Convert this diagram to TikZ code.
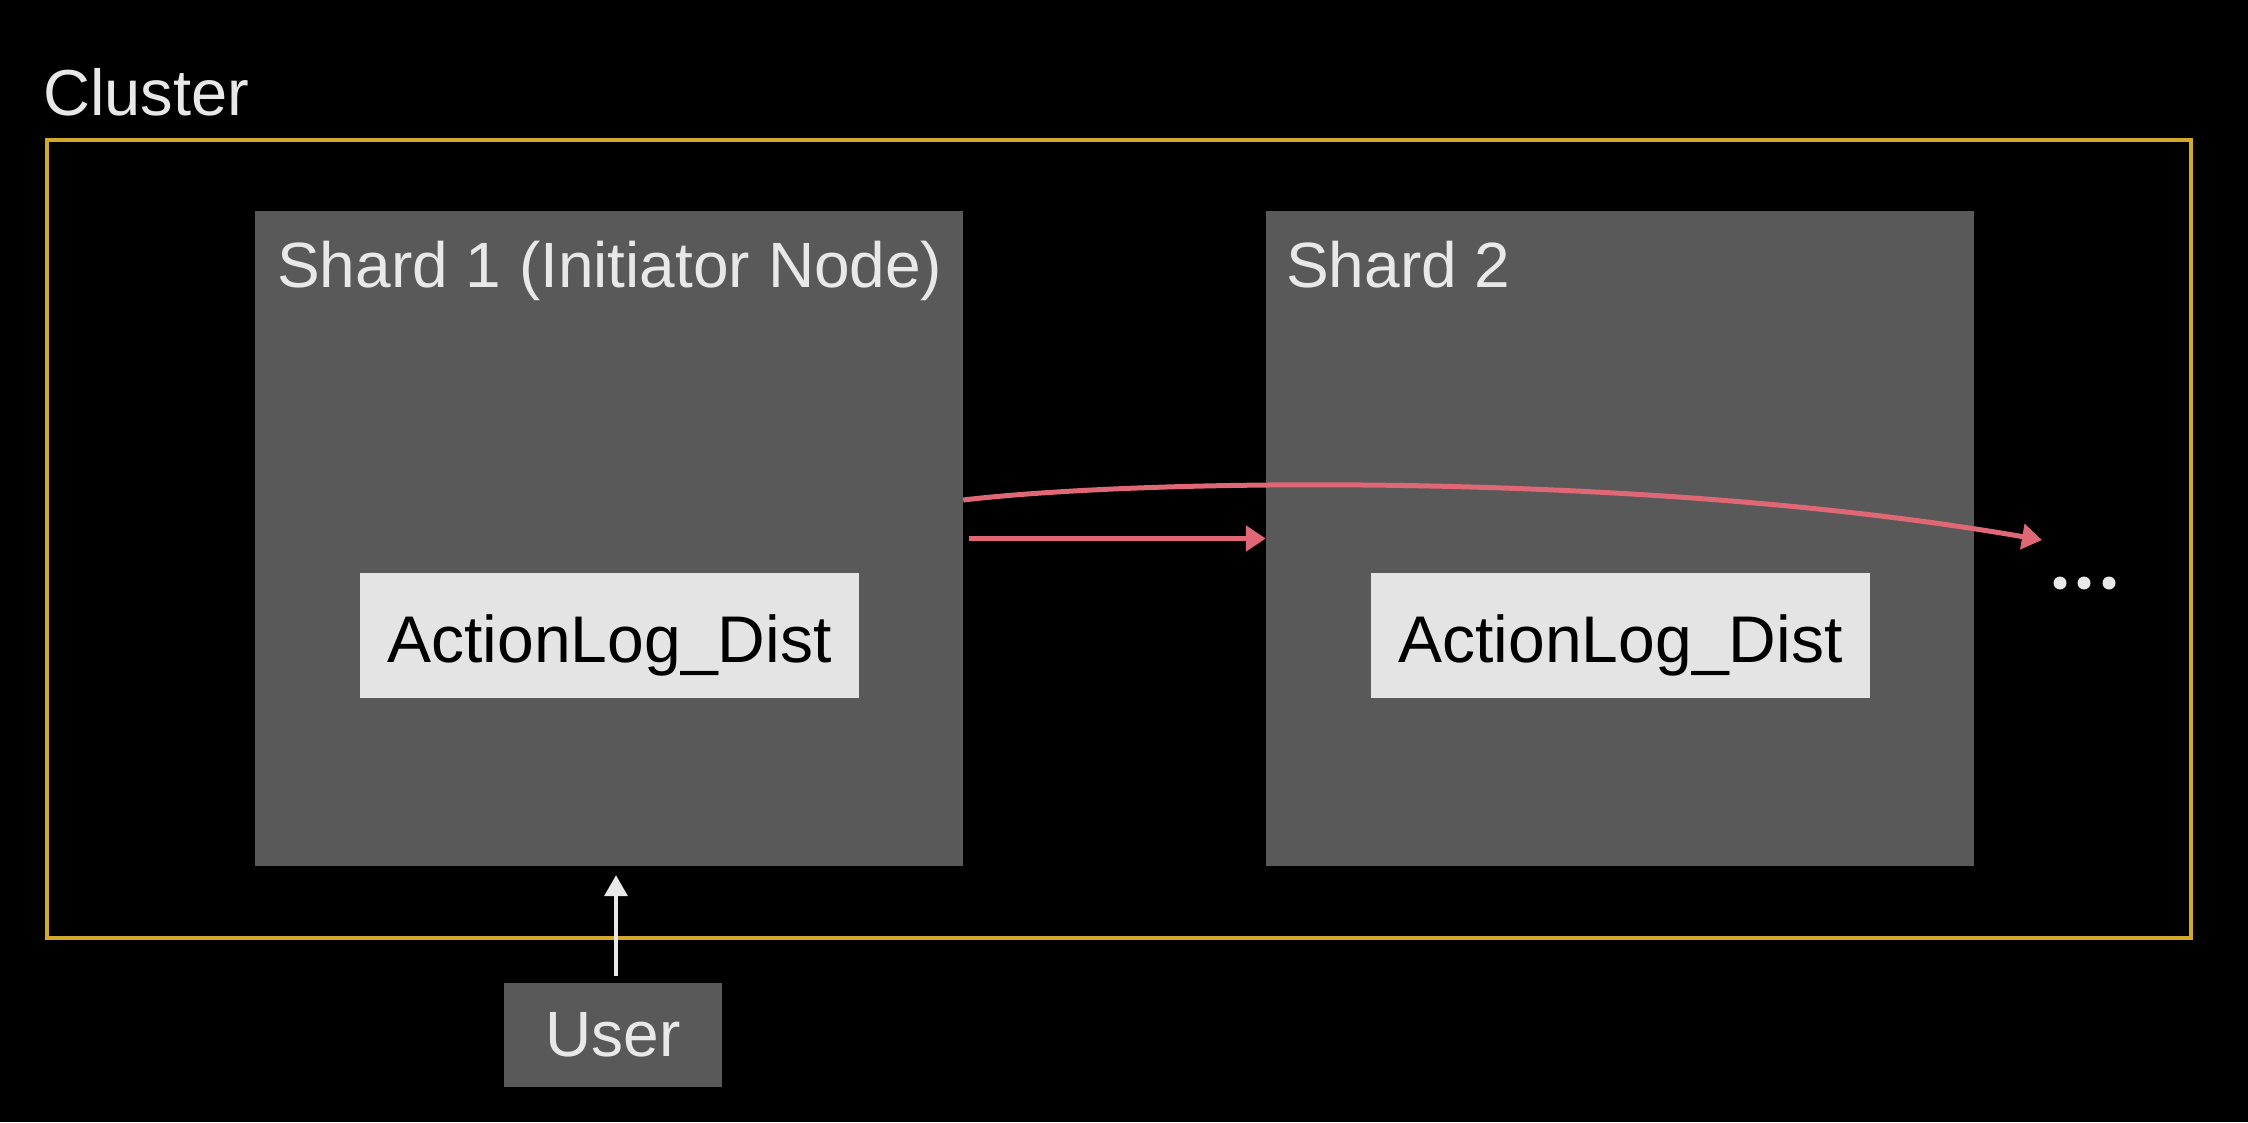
\documentclass[tikz,border=0pt]{standalone}
\usepackage{fontspec}
\setmainfont{Liberation Sans}
\usetikzlibrary{arrows.meta}
\definecolor{bgblack}{RGB}{0,0,0}
\definecolor{shardgray}{RGB}{89,89,89}
\definecolor{logfill}{RGB}{228,228,228}
\definecolor{lighttext}{RGB}{232,232,232}
\definecolor{gold}{RGB}{212,168,44}
\definecolor{redarrow}{RGB}{224,104,118}
\tikzset{
  clusterbox/.style={draw=gold, line width=4.5pt, minimum width=2144pt, minimum height=798pt, inner sep=0pt},
  shardbox/.style={fill=shardgray, minimum width=708pt, minimum height=655pt, inner sep=0pt},
  logbox/.style={fill=logfill, text=black, minimum width=499pt, minimum height=125pt, inner sep=0pt, font=\fontsize{66pt}{79pt}\selectfont},
  userbox/.style={fill=shardgray, text=lighttext, minimum width=218pt, minimum height=104pt, inner sep=0pt, font=\fontsize{64pt}{77pt}\selectfont},
  titletext/.style={text=lighttext, inner sep=0pt, anchor=base west, font=\fontsize{64pt}{77pt}\selectfont},
  redconn/.style={draw=redarrow, line width=5pt, -{Triangle[length=20pt,width=25pt]}},
  userconn/.style={draw=lighttext, line width=3.5pt, -{Triangle[length=21pt,width=23pt]}},
  dot/.style={circle, fill=lighttext, minimum size=13pt, inner sep=0pt}
}
\begin{document}
\begin{tikzpicture}[x=1pt,y=-1pt]
\fill[bgblack] (0,0) rectangle (2248,1122);
\useasboundingbox (0,0) rectangle (2248,1122);

\node[titletext, font=\fontsize{65pt}{78pt}\selectfont] (clustertitle) at (43,115) {Cluster};
\node[clusterbox] (cluster) at (1119,539) {};

\node[shardbox] (shard1) at (609,538.5) {};
\node[shardbox] (shard2) at (1620,538.5) {};
\node[titletext] (shard1title) at (277,287) {Shard 1 (Initiator Node)};
\node[titletext] (shard2title) at (1286,287) {Shard 2};

\node[logbox, text depth=0pt] (log1) at (609.5,635.5) {\raisebox{-6pt}{ActionLog\_Dist}};
\node[logbox, text depth=0pt] (log2) at (1620.5,635.5) {\raisebox{-6pt}{ActionLog\_Dist}};

\node[userbox] (user) at (613,1035) {User};

\node[dot] (dot1) at (2060,583) {};
\node[dot] (dot2) at (2084,583) {};
\node[dot] (dot3) at (2109,583) {};
\coordinate (curveend) at (2042,540);

\draw[redconn] ([xshift=6pt]shard1.east) -- (shard2.west);
\draw[redconn] ([yshift=38.5pt]shard1.east) .. controls (1150,478) and (1650,472) .. (curveend);
\draw[userconn] ([xshift=3pt,yshift=7pt]user.north) -- ([xshift=3pt,yshift=-9pt]user.north |- shard1.south);
\end{tikzpicture}
\end{document}
